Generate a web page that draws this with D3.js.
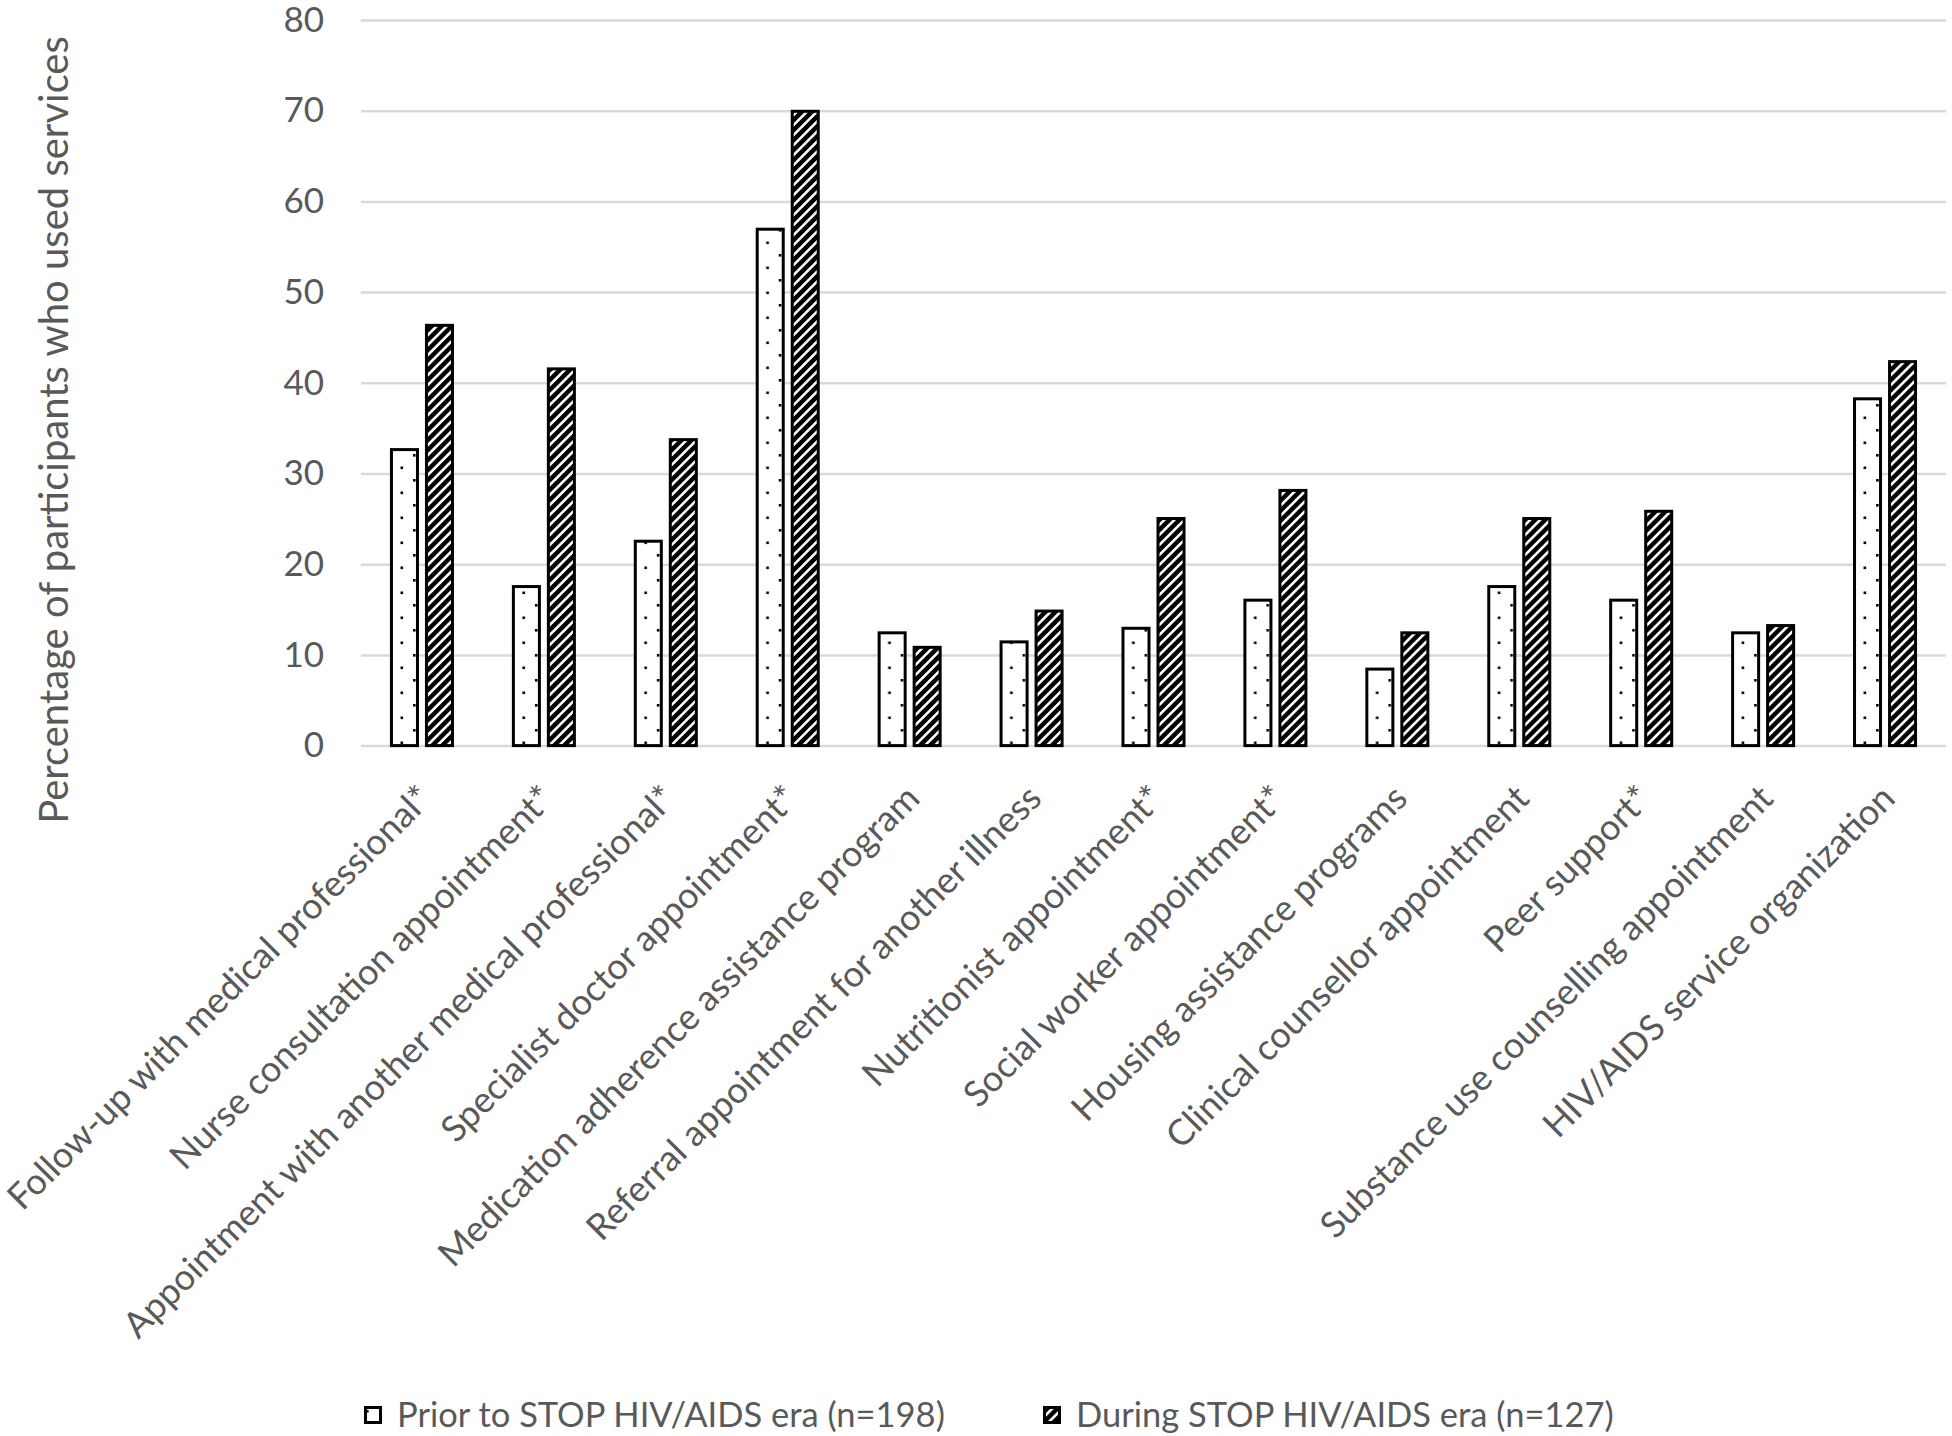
<!DOCTYPE html>
<html>
<head>
<meta charset="utf-8">
<script src="https://cdn.jsdelivr.net/npm/d3@7"></script>
<style>
  body { margin: 0; background: #fff; }
  text { font-family: Lato, "Open Sans", sans-serif; fill: #595959; }
</style>
</head>
<body>
<script>
var categories = [
    "Follow-up with medical professional*",
    "Nurse consultation appointment*",
    "Appointment with another medical professional*",
    "Specialist doctor appointment*",
    "Medication adherence assistance program",
    "Referral appointment for another illness",
    "Nutritionist appointment*",
    "Social worker appointment*",
    "Housing assistance programs",
    "Clinical counsellor appointment",
    "Peer support*",
    "Substance use counselling appointment",
    "HIV/AIDS service organization"
];
var priorValues  = [32.8, 17.7, 22.7, 57.1, 12.6, 11.6, 13.1, 16.2, 8.6, 17.7, 16.2, 12.6, 38.4];
var duringValues = [46.5, 41.7, 33.9, 70.1, 11.0, 15.0, 25.2, 28.3, 12.6, 25.2, 26.0, 13.4, 42.5];
var seriesKeys = ["prior", "during"];
var seriesLabels = ["Prior to STOP HIV/AIDS era (n=198)", "During STOP HIV/AIDS era (n=127)"];
var yTicks = [0, 10, 20, 30, 40, 50, 60, 70, 80];
var yTitle = "Percentage of participants who used services";

var svgWidth = 1952;
var svgHeight = 1436;

var plot = { left: 361, right: 1946, top: 20, bottom: 745.6 };

var svg = d3.select("body")
            .append("svg")
            .attr("width", svgWidth)
            .attr("height", svgHeight);

svg.append("rect").attr("width", svgWidth).attr("height", svgHeight).attr("fill", "#fff");

var defs = svg.append("defs");

var dots = defs.append("pattern")
               .attr("id", "dots")
               .attr("patternUnits", "userSpaceOnUse")
               .attr("width", 25)
               .attr("height", 25);
dots.append("rect").attr("width", 25).attr("height", 25).attr("fill", "#fff");
dots.append("rect").attr("x", 2).attr("y", 4).attr("width", 2.6).attr("height", 2.6).attr("fill", "#000");
dots.append("rect").attr("x", 14.5).attr("y", 16.5).attr("width", 2.6).attr("height", 2.6).attr("fill", "#000");

var hatch = defs.append("pattern")
                .attr("id", "hatch")
                .attr("patternUnits", "userSpaceOnUse")
                .attr("width", 7.07)
                .attr("height", 7.07)
                .attr("patternTransform", "rotate(45)");
hatch.append("rect").attr("width", 7.07).attr("height", 7.07).attr("fill", "#000");
hatch.append("rect").attr("x", 0).attr("width", 2.6).attr("height", 7.07).attr("fill", "#fff");

var fills = { prior: "url(#dots)", during: "url(#hatch)" };

var data = categories.map(function(c, i) {
    return { category: c, prior: priorValues[i], during: duringValues[i] };
});

var x0 = d3.scaleBand()
           .domain(categories)
           .range([plot.left, plot.right]);

var x1 = d3.scaleBand()
           .domain(seriesKeys)
           .range([0, x0.bandwidth()])
           .paddingInner(0.171)
           .paddingOuter(0.827);

var yScale = d3.scaleLinear()
               .domain([0, 80])
               .range([plot.bottom, plot.top]);

// gridlines + y labels
var yAxis = svg.append("g")
               .attr("transform", `translate(${plot.left}, 0)`)
               .call(d3.axisLeft(yScale)
                       .tickValues(yTicks)
                       .tickSize(-(plot.right - plot.left))
                       .tickPadding(37));
yAxis.select(".domain").remove();
yAxis.selectAll("line").attr("stroke", "#d9d9d9").attr("stroke-width", 2.5);
yAxis.selectAll("text")
     .style("font-size", "35px")
     .style("font-family", "Lato, 'Open Sans', sans-serif")
     .attr("fill", "#595959");

// bars
var sw = 3;
var groups = svg.append("g")
                .selectAll("g")
                .data(data)
                .enter()
                .append("g")
                .attr("transform", d => `translate(${x0(d.category)}, 0)`);

groups.selectAll("rect")
      .data(d => seriesKeys.map(k => ({ key: k, value: d[k] })))
      .enter()
      .append("rect")
      .attr("x", d => x1(d.key) + sw / 2)
      .attr("width", x1.bandwidth() - sw)
      .attr("y", d => yScale(d.value) + sw / 2)
      .attr("height", d => yScale(0) - yScale(d.value) - sw / 2)
      .attr("fill", d => fills[d.key])
      .attr("stroke", "#000")
      .attr("stroke-width", sw);

// category labels
var xAxis = svg.append("g")
               .attr("transform", `translate(0, ${plot.bottom})`)
               .call(d3.axisBottom(x0).tickSize(0));
xAxis.select(".domain").remove();
xAxis.selectAll("text")
     .attr("y", 0)
     .attr("x", 0)
     .attr("dy", "0.35em")
     .attr("transform", "translate(3, 46) rotate(-45)")
     .attr("text-anchor", "end")
     .style("font-size", "36px")
     .style("font-family", "Lato, 'Open Sans', sans-serif")
     .attr("fill", "#595959");

// y title
svg.append("text")
   .attr("transform", "translate(68, 430) rotate(-90)")
   .attr("text-anchor", "middle")
   .style("font-size", "40px")
   .text(yTitle);

// legend
var legendPos = [364, 1043];
var legend = svg.append("g")
                .selectAll("g")
                .data(seriesKeys)
                .enter()
                .append("g")
                .attr("transform", (d, i) => `translate(${legendPos[i]}, 1406)`);

legend.append("rect")
      .attr("x", 1.5)
      .attr("y", 1.5)
      .attr("width", 15)
      .attr("height", 15)
      .attr("fill", d => fills[d])
      .attr("stroke", "#000")
      .attr("stroke-width", 3);

legend.append("text")
      .attr("x", 33)
      .attr("y", 9)
      .attr("dy", "0.36em")
      .style("font-size", "34.5px")
      .text((d, i) => seriesLabels[i]);
</script>
</body>
</html>
